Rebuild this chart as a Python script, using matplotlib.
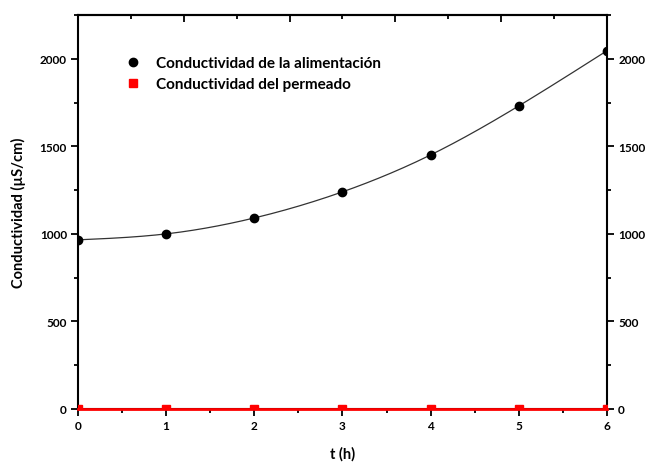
import numpy as np
import matplotlib
matplotlib.use("Agg")
import matplotlib.pyplot as plt
from matplotlib.lines import Line2D
from matplotlib.ticker import MultipleLocator

plt.rcParams['font.family'] = ['Lato', 'DejaVu Sans']

t_h = [0, 1, 2, 3, 4, 5, 6]
cond_alimentacion = [966, 1000, 1091, 1240, 1451, 1731, 2046]
cond_permeado = [0, 0, 0, 0, 0, 0, 0]
label_alim = "Conductividad de la alimentación"
label_perm = "Conductividad del permeado"


def natural_spline(x, y, n=300):
    x = np.asarray(x, float)
    y = np.asarray(y, float)
    k = len(x)
    h = np.diff(x)
    A = np.zeros((k, k))
    b = np.zeros(k)
    A[0, 0] = A[-1, -1] = 1
    for i in range(1, k - 1):
        A[i, i - 1] = h[i - 1]
        A[i, i] = 2 * (h[i - 1] + h[i])
        A[i, i + 1] = h[i]
        b[i] = 3 * ((y[i + 1] - y[i]) / h[i] - (y[i] - y[i - 1]) / h[i - 1])
    c = np.linalg.solve(A, b)
    xs = np.linspace(x[0], x[-1], n)
    ys = np.empty_like(xs)
    for j, xv in enumerate(xs):
        i = min(np.searchsorted(x, xv, side='right') - 1, k - 2)
        d = xv - x[i]
        bi = (y[i + 1] - y[i]) / h[i] - h[i] * (2 * c[i] + c[i + 1]) / 3
        di = (c[i + 1] - c[i]) / (3 * h[i])
        ys[j] = y[i] + bi * d + c[i] * d ** 2 + di * d ** 3
    return xs, ys


fig = plt.figure(figsize=(6.46, 4.64), dpi=100)
ax = fig.add_axes([0.1207, 0.1164, 0.8189, 0.8491])

xs, ys = natural_spline(t_h, cond_alimentacion)
ax.plot(xs, ys, color='#333333', lw=0.9, zorder=2)
ax.plot(t_h, cond_alimentacion, 'o', color='black', ms=6, zorder=3)
ax.plot(t_h, cond_permeado, '-', color='#ff0000', lw=2.0, zorder=5, clip_on=False)
ax.plot(t_h, cond_permeado, 's', color='#ff0000', ms=6, zorder=6)

ax.set_xlim(0, 6)
ax.set_ylim(0, 2250)
ax.xaxis.set_major_locator(MultipleLocator(1))
ax.xaxis.set_minor_locator(MultipleLocator(0.5))
ax.yaxis.set_major_locator(MultipleLocator(500))
ax.yaxis.set_minor_locator(MultipleLocator(250))

for s in ax.spines.values():
    s.set_linewidth(1.5)

ax.tick_params(which='both', direction='out', width=1.3, labelsize=8.5)
ax.tick_params(which='major', length=5, pad=3)
ax.tick_params(which='minor', length=3)
ax.tick_params(axis='y', which='both', left=True, right=True, labelleft=True, labelright=True)
ax.tick_params(axis='x', which='both', top=False)
for lab in ax.get_xticklabels() + ax.get_yticklabels():
    lab.set_fontweight('bold')
for t in ax.yaxis.get_major_ticks():
    t.label2.set_fontweight('bold')

top = ax.secondary_xaxis('top', functions=(lambda v: v * 10 / 6, lambda v: v * 6 / 10))
top.xaxis.set_major_locator(MultipleLocator(2))
top.xaxis.set_minor_locator(MultipleLocator(1))
top.tick_params(which='both', direction='in', width=1.3, labeltop=False)
top.tick_params(which='major', length=5)
top.tick_params(which='minor', length=3)
top.spines['top'].set_linewidth(1.5)

ax.set_xlabel('t (h)', fontsize=10.5, fontweight='bold', labelpad=11)
ax.set_ylabel('Conductividad (µS/cm)', fontsize=10.5, fontweight='bold', labelpad=10)

handles = [
    Line2D([], [], marker='o', ls='none', color='black', ms=6),
    Line2D([], [], marker='s', ls='none', color='#ff0000', ms=6),
]
ax.legend(handles, [label_alim, label_perm], loc='upper left',
          bbox_to_anchor=(0.06, 0.93), frameon=False, handlelength=1.2,
          handletextpad=0.9, labelspacing=0.45,
          prop={'weight': 'bold', 'size': 11})

fig.savefig('out.png', dpi=100)
